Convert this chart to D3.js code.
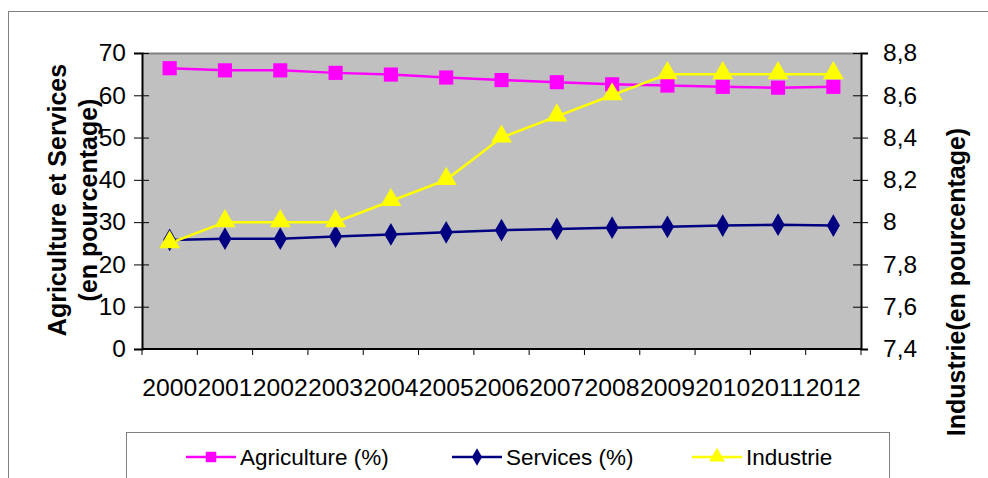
<!DOCTYPE html>
<html><head><meta charset="utf-8">
<script src="https://d3js.org/d3.v7.min.js"></script>
<style>body{margin:0;background:#fff}svg{display:block;font-family:"Liberation Sans",Arial,sans-serif}</style>
</head><body><svg id="c" width="988" height="478"></svg>
<script>
const years = ["2000","2001","2002","2003","2004","2005","2006","2007","2008","2009","2010","2011","2012"];
const agriculture = [66.4,65.9,65.9,65.3,64.9,64.2,63.6,63.1,62.6,62.3,62.0,61.8,62.0];
const services = [25.8,26.1,26.1,26.6,27.1,27.6,28.1,28.4,28.7,28.9,29.2,29.4,29.2];
const industrie = [7.9,8.0,8.0,8.0,8.1,8.2,8.4,8.5,8.6,8.7,8.7,8.7,8.7];
const leftTicks = [0,10,20,30,40,50,60,70];
const rightTicks = [7.4,7.6,7.8,8.0,8.2,8.4,8.6,8.8];
const seriesNames = ["Agriculture (%)","Services (%)","Industrie"];

const svg = d3.select("#c");
const L=142, R=861, T=53, B=349;
svg.append("rect").attr("x",8.5).attr("y",11.5).attr("width",1200).attr("height",600)
  .attr("fill","#fff").attr("stroke","#808080");
const x = d3.scaleBand().domain(years).range([L,R]).padding(0);
const yL = d3.scaleLinear().domain([0,70]).range([B,T]);
const yR = d3.scaleLinear().domain([7.4,8.8]).range([B,T]);

svg.append("rect").attr("x",L).attr("y",T).attr("width",R-L).attr("height",B-T).attr("fill","#c0c0c0");
svg.append("line").attr("x1",L).attr("x2",R).attr("y1",T+0.5).attr("y2",T+0.5).attr("stroke","#808080").attr("stroke-width",2);

const gl = svg.append("g").attr("transform",`translate(${L},0)`)
  .call(d3.axisLeft(yL).tickValues(leftTicks).tickSize(8).tickPadding(8).tickFormat(d3.format("d")));
gl.selectAll(".tick line").attr("x2",-8).attr("x1",7);
const gr = svg.append("g").attr("transform",`translate(${R},0)`)
  .call(d3.axisRight(yR).tickValues(rightTicks).tickSize(7).tickPadding(15).tickFormat(d=>d3.format(".1~f")(d).replace(".",",")));
gr.selectAll(".tick line").attr("x1",-8);
const gb = svg.append("g").attr("transform",`translate(0,${B})`)
  .call(d3.axisBottom(x).tickSize(0).tickPadding(30));
const bounds = years.map(y=>x(y)).concat([R]);
svg.append("g").selectAll("line").data(bounds).join("line")
  .attr("x1",d=>d).attr("x2",d=>d).attr("y1",B).attr("y2",B+6).attr("stroke","#000");
[gl,gr,gb].forEach(g=>{
  g.select(".domain").attr("stroke","#000").attr("stroke-width",2);
  g.selectAll(".tick line").attr("stroke","#000");
  g.selectAll("text").attr("fill","#000").attr("font-family","Liberation Sans, Arial, sans-serif");
});
gl.selectAll("text").attr("font-size",24.5);
gr.selectAll("text").attr("font-size",24.5);
gb.selectAll("text").attr("font-size",23.5).attr("textLength",55).attr("lengthAdjust","spacingAndGlyphs");
gb.select(".domain").remove();
svg.append("line").attr("x1",L).attr("x2",R).attr("y1",B).attr("y2",B).attr("stroke","#000").attr("stroke-width",2);

svg.append("text").attr("transform","translate(66,200) rotate(-90)").attr("text-anchor","middle")
  .attr("font-size",25).attr("font-weight","bold").text("Agriculture et Services");
svg.append("text").attr("transform","translate(97,200) rotate(-90)").attr("text-anchor","middle")
  .attr("font-size",25).attr("font-weight","bold").text("(en pourcentage)");
svg.append("text").attr("transform","translate(965,282) rotate(-90)").attr("text-anchor","middle")
  .attr("font-size",25).attr("font-weight","bold").text("Industrie(en pourcentage)");

const cx = d => x(d)+x.bandwidth()/2;
const colors = ["#ff00ff","#000080","#ffff00"];
function drawSeries(vals, yS, color){
  svg.append("path").datum(vals).attr("fill","none").attr("stroke",color).attr("stroke-width",2.5)
    .attr("d", d3.line().x((d,i)=>cx(years[i])).y(d=>yS(d)));
}
drawSeries(agriculture,yL,colors[0]);
drawSeries(services,yL,colors[1]);
drawSeries(industrie,yR,colors[2]);
const sq = d3.symbol().type(d3.symbolSquare).size(200);
const dia = d3.symbol().type(d3.symbolDiamond).size(150);
const tri = d3.symbol().type(d3.symbolTriangle).size(190);
svg.append("g").selectAll("path").data(services).join("path")
  .attr("d",dia).attr("transform",(d,i)=>`translate(${cx(years[i])},${yL(d)})`).attr("fill",colors[1]);
svg.append("g").selectAll("path").data(agriculture).join("path")
  .attr("d",sq).attr("transform",(d,i)=>`translate(${cx(years[i])},${yL(d)})`).attr("fill",colors[0]);
svg.append("g").selectAll("path").data(industrie).join("path")
  .attr("d",tri).attr("transform",(d,i)=>`translate(${cx(years[i])},${yR(d)-1})`).attr("fill",colors[2]);

svg.append("rect").attr("x",126.5).attr("y",432.5).attr("width",763).attr("height",80).attr("fill","#fff").attr("stroke","#808080");
const legX = [186,452,692];
const lsizes=[110,90,110];
seriesNames.forEach((n,i)=>{
  const g = svg.append("g").attr("transform",`translate(${legX[i]},457)`);
  g.append("line").attr("x1",0).attr("x2",50).attr("stroke",colors[i]).attr("stroke-width",2.5);
  g.append("path").attr("d",d3.symbol().type([d3.symbolSquare,d3.symbolDiamond,d3.symbolTriangle][i]).size(lsizes[i]))
    .attr("transform","translate(25,0)").attr("fill",colors[i]);
  g.append("text").attr("x",54).attr("y",0).attr("dy","0.35em").attr("font-size",22.5).attr("fill","#000").text(n);
});
</script></body></html>
